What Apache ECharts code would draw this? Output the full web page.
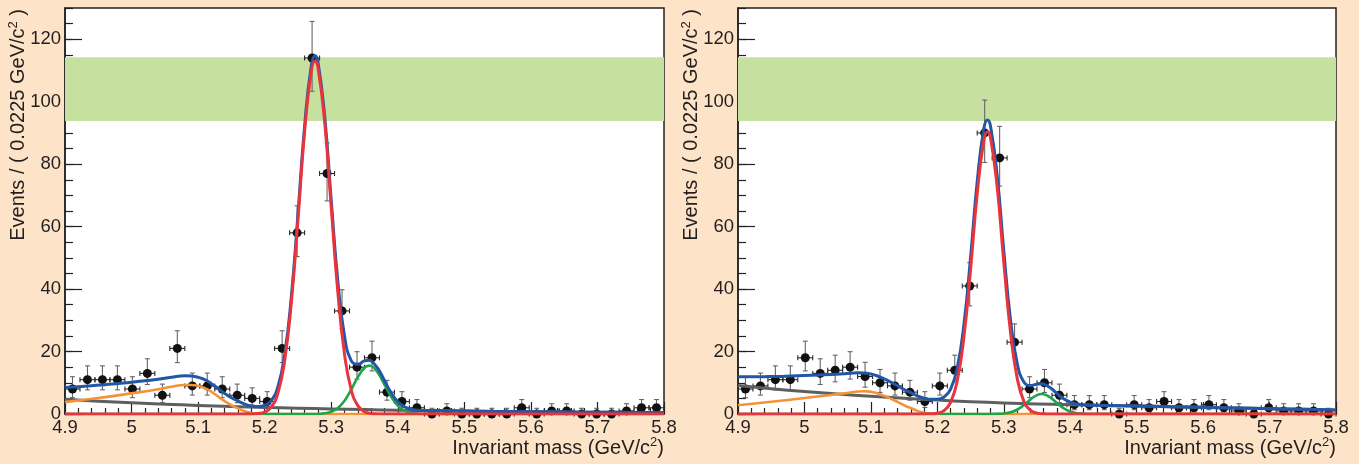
<!DOCTYPE html>
<html>
<head>
<meta charset="utf-8">
<script src="https://cdn.jsdelivr.net/npm/echarts@6/dist/echarts.min.js"></script>
<style>
html,body{margin:0;padding:0;background:#fde3c7;}
#c{width:1359px;height:464px;}
</style>
</head>
<body>
<div id="c"></div>
<script>
// ---------------- data ----------------
const binWidth = 0.0225;
const xTicks = [4.9, 5.0, 5.1, 5.2, 5.3, 5.4, 5.5, 5.6, 5.7, 5.8];
const yTicks = [0, 20, 40, 60, 80, 100, 120];
const yMax = 130;
const band = [93.8, 114.2];

const leftCounts  = [8,11,11,11,8,13,6,21,9,9,8,6,5,4,21,58,114,77,33,15,18,7,4,2,0,1,0,0,0,0,2,0,1,1,0,0,0,1,2,2];
const rightCounts = [8,9,11,11,18,13,14,15,12,10,9,7,4,9,14,41,90,82,23,8,10,6,3,3,3,0,3,2,4,2,2,3,2,1,0,2,1,1,1,0];

// fitted curves: [mass, events]
const leftComb = [[4.90,4.70],[4.95,4.11],[5.00,3.60],[5.05,3.15],[5.10,2.76],[5.15,2.41],[5.20,2.11],[5.25,1.85],[5.30,1.62],[5.35,1.41],[5.40,1.24],[5.45,1.08],[5.50,0.95],[5.55,0.83],[5.60,0.73],[5.65,0.64],[5.70,0.56],[5.75,0.49],[5.80,0.43]];
const leftPartReco = [[4.90,3.8],[4.95,5.1],[5.00,6.6],[5.04,7.9],[5.06,8.7],[5.08,9.3],[5.09,9.3],[5.10,9.0],[5.11,8.3],[5.12,7.1],[5.13,5.6],[5.14,4.1],[5.15,2.8],[5.16,1.8],[5.17,0.9],[5.18,0.35],[5.19,0.05],[5.20,0],[5.30,0],[5.80,0]];
const leftSignal = [[4.90,0],[5.10,0],[5.18,0],[5.19,0.15],[5.20,0.63],[5.21,2.27],[5.22,6.81],[5.23,17.06],[5.24,35.6],[5.25,62.1],[5.26,90.4],[5.27,109.7],[5.2757,113],[5.28,111.1],[5.29,93.9],[5.30,66.2],[5.31,38.9],[5.32,19.1],[5.33,7.83],[5.34,2.68],[5.35,0.76],[5.36,0.18],[5.37,0.04],[5.38,0],[5.45,0],[5.80,0]];
const leftPeaking = [[4.90,0],[5.20,0],[5.28,0],[5.29,0.22],[5.30,0.72],[5.31,1.92],[5.32,4.25],[5.33,7.78],[5.34,11.8],[5.35,14.8],[5.357,15.5],[5.36,15.4],[5.37,13.2],[5.38,9.4],[5.39,5.54],[5.40,2.70],[5.41,1.09],[5.42,0.36],[5.43,0.10],[5.44,0],[5.50,0],[5.80,0]];
const leftTotal = [[4.90,8.5],[4.92,8.76],[4.94,9.07],[4.96,9.4],[4.98,9.8],[5.00,10.2],[5.02,10.66],[5.04,11.13],[5.06,11.77],[5.08,12.21],[5.09,12.13],[5.10,11.76],[5.11,10.98],[5.12,9.71],[5.13,8.15],[5.14,6.58],[5.15,5.21],[5.16,4.15],[5.17,3.19],[5.18,2.58],[5.19,2.37],[5.20,2.74],[5.21,4.32],[5.22,8.81],[5.23,19.0],[5.24,37.5],[5.25,63.95],[5.26,92.2],[5.27,111.45],[5.2757,114.7],[5.28,112.8],[5.29,95.8],[5.30,68.5],[5.31,42.4],[5.32,24.9],[5.33,17.1],[5.34,15.9],[5.35,17.0],[5.357,17.2],[5.36,17.0],[5.37,14.6],[5.38,10.7],[5.39,6.8],[5.40,3.94],[5.41,2.3],[5.42,1.54],[5.43,1.24],[5.44,1.11],[5.45,1.09],[5.50,0.95],[5.55,0.83],[5.60,0.73],[5.65,0.64],[5.70,0.56],[5.75,0.49],[5.80,0.43]];

const rightComb = [[4.90,9.10],[4.95,8.10],[5.00,7.20],[5.05,6.40],[5.10,5.70],[5.15,5.05],[5.20,4.45],[5.25,3.95],[5.30,3.55],[5.35,3.22],[5.40,2.97],[5.45,2.75],[5.50,2.55],[5.55,2.35],[5.60,2.14],[5.65,1.93],[5.70,1.72],[5.75,1.51],[5.80,1.30]];
const rightPartReco = [[4.90,2.8],[4.95,3.9],[5.00,5.1],[5.04,6.1],[5.06,6.6],[5.08,7.2],[5.09,7.3],[5.10,7.1],[5.11,6.6],[5.12,5.8],[5.13,4.9],[5.14,3.9],[5.15,2.8],[5.16,1.9],[5.17,1.0],[5.18,0.4],[5.19,0.08],[5.20,0],[5.30,0],[5.80,0]];
const rightSignal = [[4.90,0],[5.10,0],[5.18,0],[5.19,0.05],[5.20,0.25],[5.21,1.08],[5.22,3.75],[5.23,10.65],[5.24,24.6],[5.25,46.2],[5.26,70.5],[5.27,87.6],[5.2755,90.4],[5.28,88.5],[5.29,72.8],[5.30,48.6],[5.31,26.4],[5.32,11.7],[5.33,4.2],[5.34,1.23],[5.35,0.29],[5.36,0.06],[5.37,0],[5.45,0],[5.80,0]];
const rightPeaking = [[4.90,0],[5.20,0],[5.28,0],[5.29,0.04],[5.30,0.16],[5.31,0.52],[5.32,1.36],[5.33,2.80],[5.34,4.61],[5.35,6.05],[5.357,6.4],[5.36,6.33],[5.37,5.28],[5.38,3.51],[5.39,1.86],[5.40,0.79],[5.41,0.26],[5.42,0.07],[5.43,0],[5.50,0],[5.80,0]];
const rightTotal = [[4.90,11.9],[4.92,11.9],[4.94,11.95],[4.96,12.02],[4.98,12.16],[5.00,12.3],[5.02,12.48],[5.04,12.66],[5.06,12.86],[5.08,13.18],[5.09,13.14],[5.10,12.8],[5.11,12.17],[5.12,11.24],[5.13,10.21],[5.14,9.08],[5.15,7.85],[5.16,6.83],[5.17,5.81],[5.18,5.09],[5.19,4.70],[5.20,4.70],[5.21,5.43],[5.22,8.0],[5.23,14.8],[5.24,28.65],[5.25,50.15],[5.26,74.37],[5.27,91.39],[5.2755,94.15],[5.28,92.21],[5.29,76.47],[5.30,52.31],[5.31,30.4],[5.32,16.48],[5.33,10.35],[5.34,9.13],[5.35,9.56],[5.357,9.69],[5.36,9.56],[5.37,8.4],[5.38,6.58],[5.39,4.88],[5.40,3.76],[5.41,3.19],[5.42,2.95],[5.43,2.84],[5.44,2.79],[5.45,2.75],[5.50,2.55],[5.55,2.35],[5.60,2.14],[5.65,1.93],[5.70,1.72],[5.75,1.51],[5.80,1.30]];

// ---------------- helpers ----------------
const FONT = '"Liberation Sans", Arial, Helvetica, sans-serif';
const TXT = '#231f20';
const C = {blue:'#2256a6', red:'#e8343c', orange:'#f39238', green:'#1aa64a', grey:'#5e6060', band:'#c5e09f'};

function poissonLow(n){ if(n===0) return 0; const t = 1 - 1/(9*n) - 1/(3*Math.sqrt(n)); return n*t*t*t; }
function poissonHigh(n){ const m = n+1; const t = 1 - 1/(9*m) + 1/(3*Math.sqrt(m)); return m*t*t*t; }

function points(counts){
  return counts.map((n,i)=>{
    const x = xTicks[0] + (i+0.5)*binWidth;
    return [x, n, poissonLow(n), poissonHigh(n)];
  });
}

function xAxisFor(gi){
  return {
    type:'value', gridIndex:gi, min:xTicks[0], max:xTicks[xTicks.length-1], interval:0.1,
    axisLine:{show:true, onZero:false, lineStyle:{color:'#222', width:1.5}},
    axisTick:{show:true, inside:true, length:12, lineStyle:{color:'#222', width:1.2}},
    minorTick:{show:true, splitNumber:5, length:6, lineStyle:{color:'#222', width:1.2}},
    splitLine:{show:false}, minorSplitLine:{show:false},
    axisLabel:{show:true, margin:4, fontSize:18.5, color:TXT, fontFamily:FONT,
      showMinLabel:true, showMaxLabel:true, hideOverlap:false,
      formatter:v=>String(Number(v.toFixed(1)))}
  };
}
function yAxisMajor(gi){
  return {
    type:'value', gridIndex:gi, position:'left', min:0, max:yMax, interval:yTicks[1]-yTicks[0],
    axisLine:{show:true, onZero:false, lineStyle:{color:'#222', width:1.5}},
    axisTick:{show:true, inside:true, length:17, lineStyle:{color:'#222', width:1.2}},
    splitLine:{show:false},
    axisLabel:{show:true, margin:4, fontSize:18.5, color:TXT, fontFamily:FONT, showMaxLabel:false,
      formatter:v=> yTicks.indexOf(Math.round(v))>=0 ? String(Math.round(v)) : ''}
  };
}
function yAxisMinor(gi){
  return {
    type:'value', gridIndex:gi, position:'left', offset:0, min:0, max:yMax, interval:5,
    axisLine:{show:false}, splitLine:{show:false}, axisLabel:{show:false},
    axisTick:{show:true, inside:true, length:8, lineStyle:{color:'#222', width:1.2}}
  };
}

function errRender(params, api){
  const x = api.value(0), y = api.value(1), lo = api.value(2), hi = api.value(3);
  const h = binWidth/2;
  const pLo = api.coord([x, lo]), pHi = api.coord([x, hi]);
  const pL = api.coord([x-h, y]), pR = api.coord([x+h, y]);
  const cap = 2.5;
  const vs = {stroke:'#666', lineWidth:1.1};
  const hs = {stroke:'#2a2a2a', lineWidth:1.1};
  return {type:'group', children:[
    {type:'line', shape:{x1:pLo[0], y1:pLo[1], x2:pHi[0], y2:pHi[1]}, style:vs},
    {type:'line', shape:{x1:pHi[0]-cap, y1:pHi[1], x2:pHi[0]+cap, y2:pHi[1]}, style:vs},
    {type:'line', shape:{x1:pLo[0]-cap, y1:pLo[1], x2:pLo[0]+cap, y2:pLo[1]}, style:vs},
    {type:'line', shape:{x1:pL[0], y1:pL[1], x2:pR[0], y2:pR[1]}, style:hs},
    {type:'line', shape:{x1:pL[0], y1:pL[1]-cap, x2:pL[0], y2:pL[1]+cap}, style:hs},
    {type:'line', shape:{x1:pR[0], y1:pR[1]-cap, x2:pR[0], y2:pR[1]+cap}, style:hs}
  ]};
}

function curve(data, color, width, gi, z){
  return {type:'line', xAxisIndex:gi, yAxisIndex:gi*2, data:data, smooth:0.5,
    showSymbol:false, symbol:'none', z:z, lineStyle:{color:color, width:width, join:'round'}, silent:true, animation:false};
}

function panelSeries(gi, counts, comb, part, sig, peak, tot){
  const pts = points(counts);
  return [
    {type:'line', xAxisIndex:gi, yAxisIndex:gi*2, data:[], z:1, silent:true,
      markArea:{silent:true, itemStyle:{color:C.band, opacity:1}, data:[[{yAxis:band[0]},{yAxis:band[1]}]]}},
    {type:'custom', xAxisIndex:gi, yAxisIndex:gi*2, data:pts, renderItem:errRender, z:3, clip:false,
      encode:{x:0, y:1}, silent:true, animation:false},
    {type:'scatter', xAxisIndex:gi, yAxisIndex:gi*2, data:pts.map(p=>[p[0],p[1]]), symbol:'circle', symbolSize:9,
      itemStyle:{color:'#111', opacity:1}, z:4, clip:false, silent:true, animation:false},
    curve(comb, C.grey, 3, gi, 5),
    curve(part, C.orange, 2.6, gi, 6),
    curve(peak, C.green, 2.6, gi, 7),
    curve(tot, C.blue, 3, gi, 8),
    curve(sig, C.red, 3, gi, 9)
  ];
}

function yTitle(x){
  return {type:'text', x:x, y:9, rotation:Math.PI/2, z:100, silent:true,
    style:{text:'{a|Events / ( 0.0225 GeV/c}{s|2}{a| )}', align:'right', verticalAlign:'middle',
      rich:{a:{fontSize:20, fontFamily:FONT, fill:TXT, lineHeight:24},
            s:{fontSize:13, fontFamily:FONT, fill:TXT, lineHeight:24, verticalAlign:'top'}}}};
}
function xTitle(x){
  return {type:'text', x:x, y:448, z:100, silent:true,
    style:{text:'{a|Invariant mass (GeV/c}{s|2}{a|)}', align:'right', verticalAlign:'middle',
      rich:{a:{fontSize:20, fontFamily:FONT, fill:TXT, lineHeight:24},
            s:{fontSize:13, fontFamily:FONT, fill:TXT, lineHeight:24, verticalAlign:'top'}}}};
}

const chart = echarts.init(document.getElementById('c'), null, {renderer:'canvas'});
chart.setOption({
  animation:false,
  backgroundColor:'#fde3c7',
  grid:[
    {left:65, top:8, width:599, height:406, show:true, backgroundColor:'#ffffff', borderColor:'#222', borderWidth:1.5},
    {left:738, top:8, width:598, height:406, show:true, backgroundColor:'#ffffff', borderColor:'#222', borderWidth:1.5}
  ],
  xAxis:[xAxisFor(0), xAxisFor(1)],
  yAxis:[yAxisMajor(0), yAxisMinor(0), yAxisMajor(1), yAxisMinor(1)],
  series:[].concat(
    panelSeries(0, leftCounts, leftComb, leftPartReco, leftSignal, leftPeaking, leftTotal),
    panelSeries(1, rightCounts, rightComb, rightPartReco, rightSignal, rightPeaking, rightTotal)
  ),
  graphic:[yTitle(18.5), xTitle(664), yTitle(691.5), xTitle(1336)]
});
</script>
</body>
</html>
